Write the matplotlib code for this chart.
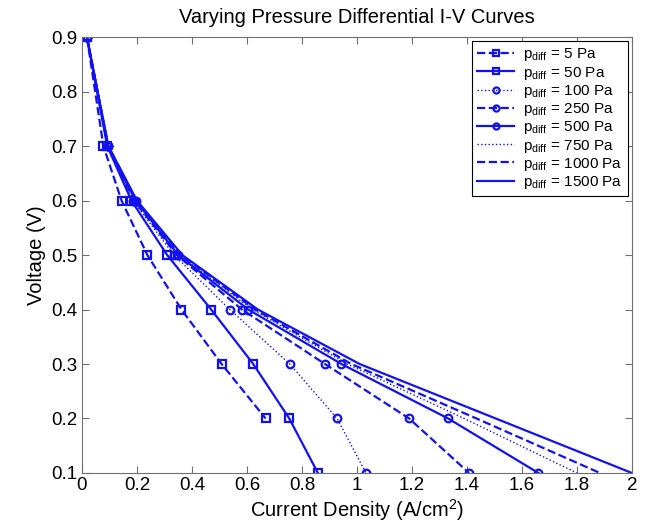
"""
Polarisation curves for several pressure differentials.
Values read off the reference figure.
"""

import matplotlib
matplotlib.use('Agg')
from matplotlib import pyplot

voltage = [0.9, 0.7, 0.6, 0.5, 0.4, 0.3, 0.2, 0.1]

# current density (A/cm^2) for each pressure differential
i_5 = [0.018, 0.078, 0.144, 0.238, 0.362, 0.508, 0.668]
i_50 = [0.018, 0.092, 0.180, 0.310, 0.470, 0.623, 0.754, 0.858]
i_100 = [0.018, 0.093, 0.185, 0.335, 0.538, 0.756, 0.928, 1.033]
i_250 = [0.018, 0.094, 0.190, 0.345, 0.582, 0.884, 1.190, 1.408]
i_500 = [0.018, 0.095, 0.195, 0.350, 0.605, 0.944, 1.332, 1.660]
i_750 = [0.018, 0.095, 0.195, 0.355, 0.620, 0.965, 1.390, 1.800]
i_1000 = [0.018, 0.096, 0.198, 0.360, 0.630, 0.980, 1.435, 1.884]
i_1500 = [0.018, 0.096, 0.200, 0.365, 0.640, 1.010, 1.505, 2.000]

pressures = ['5', '50', '100', '250', '500', '750', '1000', '1500']
currents = [i_5, i_50, i_100, i_250, i_500, i_750, i_1000, i_1500]
styles = [('--', 's'), ('-', 's'), (':', 'o'), ('--', 'o'),
          ('-', 'o'), (':', None), ('--', None), ('-', None)]

pyplot.rc('font', family='Liberation Sans', size=12)
pyplot.rc('mathtext', fontset='custom', rm='Liberation Sans',
          it='Liberation Sans', bf='Liberation Sans:bold')

fig = pyplot.figure(figsize=(6.48, 5.32), dpi=100)
ax = fig.add_axes([0.1265, 0.111, 0.8485, 0.819])

color = '#1212f0'
for p, cur, (ls, mk) in zip(pressures, currents, styles):
    lw = 1.0 if ls == ':' else 1.6
    ax.plot(cur, voltage[:len(cur)], linestyle=ls, marker=mk, color=color,
            linewidth=lw, markersize=5.5, markerfacecolor='none',
            markeredgewidth=1.6,
            label=r'$\mathregular{p_{diff}}$ = %s Pa' % p)

ax.set_xlim(0, 2)
ax.set_ylim(0.1, 0.9)
ax.set_xticks([0, 0.2, 0.4, 0.6, 0.8, 1, 1.2, 1.4, 1.6, 1.8, 2])
ax.set_xticklabels(['0', '0.2', '0.4', '0.6', '0.8', '1', '1.2', '1.4',
                    '1.6', '1.8', '2'])
ax.set_yticks([0.1, 0.2, 0.3, 0.4, 0.5, 0.6, 0.7, 0.8, 0.9])
ax.tick_params(direction='in', top=True, right=True, length=5,
               color='#707070', labelsize=13.5, pad=3)
for spine in ax.spines.values():
    spine.set_color('#707070')

ax.set_xlabel(r'Current Density (A/cm$^2$)', fontsize=14.5, labelpad=2)
ax.set_ylabel('Voltage (V)', fontsize=14.5)
ax.set_title('Varying Pressure Differential I-V Curves', fontsize=14.5,
             pad=10)

leg = ax.legend(loc='upper right', fontsize=11, handlelength=2.4,
                labelspacing=0.08, borderpad=0.35, handletextpad=0.6,
                fancybox=False, framealpha=1, edgecolor='black',
                borderaxespad=0.25, markerscale=0.8)
leg.get_frame().set_linewidth(0.8)

fig.savefig('out.png', dpi=100)
